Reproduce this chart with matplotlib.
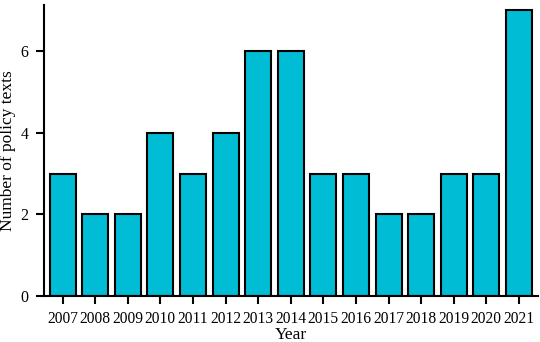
import matplotlib
matplotlib.use('Agg')
import matplotlib.pyplot as plt

plt.rcParams['font.family'] = 'serif'
plt.rcParams['font.serif'] = ['Liberation Serif', 'DejaVu Serif']

years = ['2007', '2008', '2009', '2010', '2011', '2012', '2013', '2014',
         '2015', '2016', '2017', '2018', '2019', '2020', '2021']
counts = [3, 2, 2, 4, 3, 4, 6, 6, 3, 3, 2, 2, 3, 3, 7]

fig, ax = plt.subplots(figsize=(5.4, 3.42), dpi=100)
fig.subplots_adjust(left=0.081, right=0.996, top=0.985, bottom=0.134)

x = range(len(years))
ax.bar(x, counts, width=0.8, color='#00BCD4', edgecolor='black', linewidth=1.5)

ax.set_xlim(-0.58, len(years) - 0.42)
ax.set_ylim(0, 7.12)
ax.set_xticks(list(x))
ax.set_xticklabels(years, fontsize=11.2)
ax.set_yticks([0, 2, 4, 6])
ax.tick_params(axis='y', labelsize=11.5, width=1.5, length=6, pad=5)
ax.tick_params(axis='x', width=1.5, length=6, pad=5)

ax.set_xlabel('Year', fontsize=12.5, labelpad=0)
ax.set_ylabel('Number of policy texts', fontsize=12.5, labelpad=3)

ax.spines['top'].set_visible(False)
ax.spines['right'].set_visible(False)
ax.spines['left'].set_linewidth(1.5)
ax.spines['bottom'].set_linewidth(1.5)

fig.savefig('out.png', dpi=100)
